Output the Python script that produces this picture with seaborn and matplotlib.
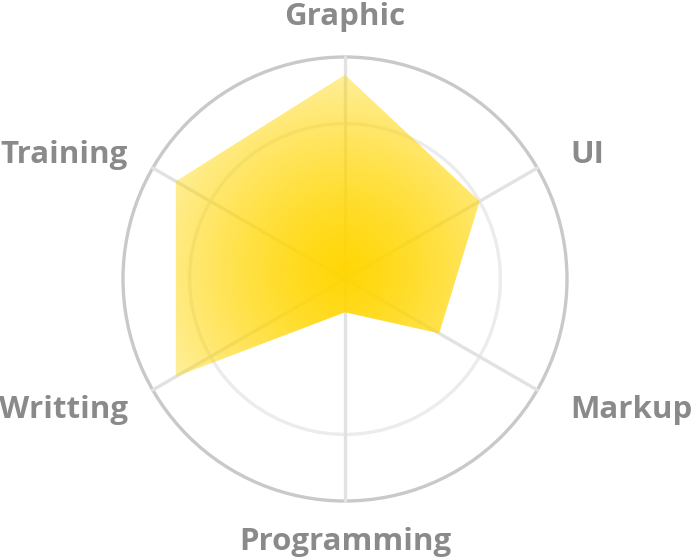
import numpy as np
import pandas as pd
import matplotlib
matplotlib.use("Agg")
import matplotlib.pyplot as plt
from matplotlib.patches import Polygon, Circle
import seaborn as sns

# ------------------------------------------------------------------
# Data (scores out of 100, clockwise from the top)
# ------------------------------------------------------------------
skills = ["Graphic", "UI", "Markup", "Programming", "Writting", "Training"]
scores = [92, 70, 49, 15, 88, 88]
grid_levels = [70, 100]
max_score = 100

sns.set_theme(style="white")
plt.rcParams["font.family"] = ["Open Sans", "DejaVu Sans"]

LABEL_GRAY = "#8a8a8a"
GOLD = np.array([255, 214, 0]) / 255.0
FONT_PT = 22.5

n = len(skills)
angles = np.pi / 2 - np.arange(n) * 2 * np.pi / n   # start at top, go clockwise


def to_xy(value, ang):
    r = value / max_score
    return r * np.cos(ang), r * np.sin(ang)


fig = plt.figure(figsize=(6.96, 5.58), dpi=100)
ax = fig.add_axes([0, 0, 1, 1])
R_PX = 222.0
cx, cy = 345.0, 279.0
ax.set_xlim(-cx / R_PX, (696 - cx) / R_PX)
ax.set_ylim(-(558 - cy) / R_PX, cy / R_PX)
ax.set_aspect("equal")

# grid circles
for lvl in grid_levels:
    col = "#c9c9c9" if lvl == max_score else "#ececec"
    ax.add_patch(Circle((0, 0), lvl / max_score, fill=False, ec=col, lw=2.4, zorder=1))

# spokes
spokes = []
for s, a in zip(skills, angles):
    x1, y1 = to_xy(max_score, a)
    spokes.append({"skill": s, "x": 0.0, "y": 0.0})
    spokes.append({"skill": s, "x": x1, "y": y1})
sns.lineplot(data=pd.DataFrame(spokes), x="x", y="y", units="skill", estimator=None,
             sort=False, color="#e2e2e2", lw=2.4, ax=ax, zorder=1, legend=False)
ax.axis("off")

# radial gradient fill clipped to the score polygon
pts = [to_xy(v, a) for v, a in zip(scores, angles)]
poly = Polygon(pts, closed=True, fc="none", ec="none")
ax.add_patch(poly)
g = np.linspace(-1, 1, 600)
gx, gy = np.meshgrid(g, g)
d = np.hypot(gx, gy - 0.04)
alpha = np.clip(0.97 - 0.62 * (d / 0.95) ** 1.3, 0.3, 1)
img = np.zeros(gx.shape + (4,))
img[..., :3] = GOLD
img[..., 3] = alpha
im = ax.imshow(img, extent=[-1, 1, -1, 1], origin="lower", zorder=2, interpolation="bilinear")
im.set_clip_path(poly)

# labels (vertically centred on the cap height)
cap_half = FONT_PT * 100 / 72 * 0.714 / 2 / R_PX
for s, a in zip(skills, angles):
    c, sn = np.cos(a), np.sin(a)
    if abs(c) < 1e-6:
        ha, rr = "center", (1.195 if sn > 0 else 1.17)
    elif c > 0:
        ha, rr = "left", 1.17
    else:
        ha, rr = "right", 1.13
    ax.text(c * rr, sn * 1.15 if abs(c) > 1e-6 else sn * rr, s,
            ha=ha, va="baseline", fontsize=FONT_PT, fontweight="bold",
            color=LABEL_GRAY, zorder=3,
            transform=ax.transData + matplotlib.transforms.Affine2D().translate(0, -cap_half * R_PX))

fig.savefig("out.png", dpi=100, facecolor="white")
